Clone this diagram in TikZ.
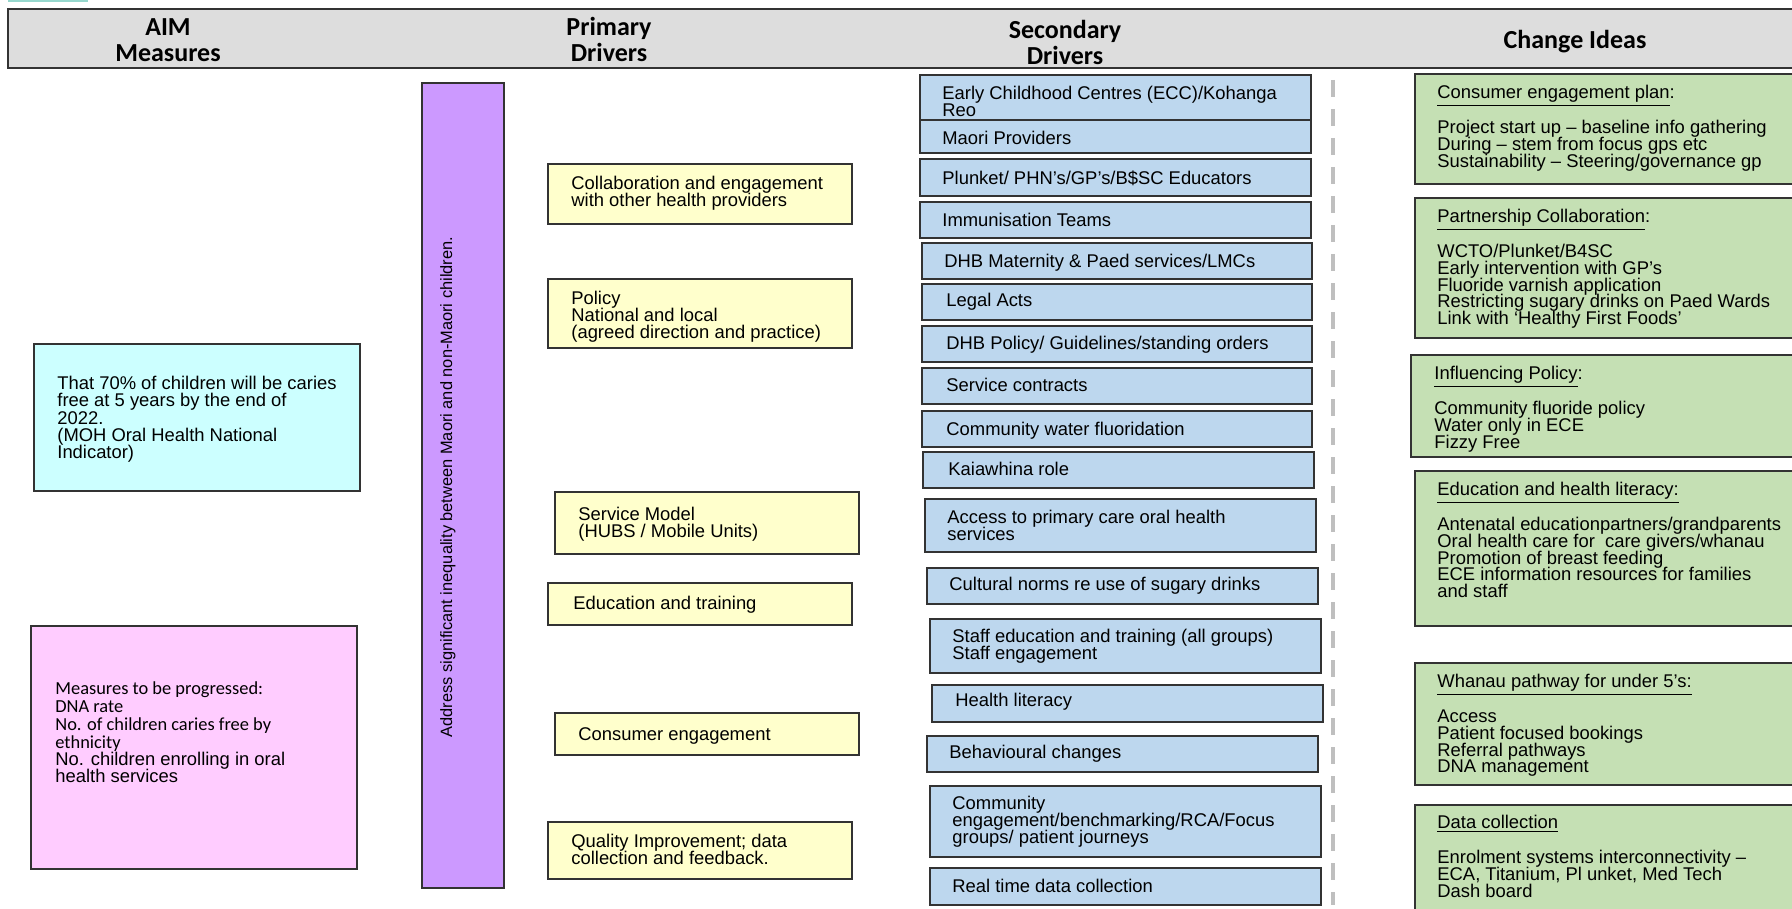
\documentclass[tikz,border=0pt]{standalone}
\usepackage{fontspec}
\setmainfont{Liberation Sans}
\newfontfamily\calibfont{Carlito}
\usepackage{xcolor}
\usepackage{tikz}
\definecolor{hdrgray}{RGB}{221,221,221}
\definecolor{aimcyan}{RGB}{204,255,255}
\definecolor{aimpink}{RGB}{255,204,255}
\definecolor{eqpurple}{RGB}{204,153,255}
\definecolor{pdyellow}{RGB}{255,255,204}
\definecolor{sdblue}{RGB}{189,215,238}
\definecolor{cigreen}{RGB}{197,224,180}
\definecolor{dashgray}{RGB}{191,191,191}
\definecolor{topteal}{RGB}{150,215,205}
\tikzset{
  boxline/.style={draw=black!80, line width=1pt},
  hdrbox/.style={boxline, fill=hdrgray},
  aimcbox/.style={boxline, fill=aimcyan},
  aimpbox/.style={boxline, fill=aimpink},
  eqbar/.style={boxline, fill=eqpurple},
  pribox/.style={boxline, fill=pdyellow},
  secbox/.style={boxline, fill=sdblue},
  ideabox/.style={boxline, fill=cigreen},
  txt/.style={anchor=north west, inner sep=0pt, align=left,
    font=\fontsize{9.2}{8.4}\selectfont},
  hdrtxt/.style={anchor=north, inner sep=0pt, align=center,
    font=\calibfont\bfseries\fontsize{13}{13}\selectfont},
}

\begin{document}
\lineskiplimit=-10pt
\begin{tikzpicture}[x=0.5pt,y=-0.5pt]
       \useasboundingbox (0,0) rectangle (1792,909);
       \clip (0,0) rectangle (1792,909);
       %TOP MARK
       \draw[topteal, line width=1pt] (8,1) -- (88,1);
       %HEADER
       \draw[hdrbox] (8,9) rectangle (1800,68);
       \node[hdrtxt] (haim) at (168,18) {AIM\\Measures};
       \node[hdrtxt] (hpri) at (609,17) {Primary\\Drivers};
       \node[hdrtxt] (hsec) at (1065,20) {Secondary\\Drivers};
       \node[hdrtxt] (hidea) at (1575,30) {Change Ideas};
       %AIM MEASURES
       \draw[aimcbox] (34,344) rectangle (360,491);
       \node[txt, font=\fontsize{9.2}{8.6}\selectfont] (aim) at (57,376) {That 70\% of children will be caries\\free at 5 years by the end of\\2022.\\(MOH Oral Health National\\Indicator)};
       \draw[aimpbox] (31,626) rectangle (357,869);
       \node[txt, font=\calibfont\fontsize{9.2}{9}\selectfont] (meas) at (55,681) {Measures to be progressed:\\DNA rate\\No. of children caries free by\\ethnicity};
       \node[txt] (enrol) at (55,752) {No. children enrolling in oral\\health services};
       %EQUITY BAR
       \draw[eqbar] (422,83) rectangle (504,888);
       \node[rotate=90, inner sep=0pt, font=\fontsize{8.2}{8}\selectfont] (eq) at (448,487) {Address significant inequality between Maori and non-Maori children.};
       %PRIMARY DRIVERS
       \draw[pribox] (548,164) rectangle (852,224);
       \node[txt] (p1) at (571,176) {Collaboration and engagement\\with other health providers};
       \draw[pribox] (548,279) rectangle (852,348);
       \node[txt] (p2) at (571,291) {Policy\\National and local\\(agreed direction and practice)};
       \draw[pribox] (555,492) rectangle (859,554);
       \node[txt] (p3) at (578,507) {Service Model\\(HUBS / Mobile Units)};
       \draw[pribox] (548,583) rectangle (852,625);
       \node[txt] (p4) at (573,596) {Education and training};
       \draw[pribox] (555,713) rectangle (859,755);
       \node[txt] (p5) at (578,727) {Consumer engagement};
       \draw[pribox] (548,822) rectangle (852,879);
       \node[txt] (p6) at (571,834) {Quality Improvement; data\\collection and feedback.};
       %SECONDARY DRIVERS
       \draw[secbox] (920,75) rectangle (1311,120);
       \node[txt] (s1) at (942,86) {Early Childhood Centres (ECC)/Kohanga\\Reo};
       \draw[secbox] (920,120) rectangle (1311,153);
       \node[txt] (s2) at (942,131) {Maori Providers};
       \draw[secbox] (920,159) rectangle (1311,196);
       \node[txt] (s3) at (942,170) {Plunket/ PHN’s/GP’s/B\$SC Educators};
       \draw[secbox] (920,202) rectangle (1311,238);
       \node[txt] (s4) at (942,213) {Immunisation Teams};
       \draw[secbox] (922,243) rectangle (1312,279);
       \node[txt] (s5) at (944,254) {DHB Maternity \& Paed services/LMCs};
       \draw[secbox] (922,284) rectangle (1312,320);
       \node[txt] (s6) at (946,293) {Legal Acts};
       \draw[secbox] (922,326) rectangle (1312,362);
       \node[txt] (s7) at (946,336) {DHB Policy/ Guidelines/standing orders};
       \draw[secbox] (922,368) rectangle (1312,404);
       \node[txt] (s8) at (946,378) {Service contracts};
       \draw[secbox] (922,411) rectangle (1312,447);
       \node[txt] (s9) at (946,422) {Community water fluoridation};
       \draw[secbox] (923,452) rectangle (1314,488);
       \node[txt] (s10) at (948,462) {Kaiawhina role};
       \draw[secbox] (925,499) rectangle (1316,552);
       \node[txt] (s11) at (947,510) {Access to primary care oral health\\services};
       \draw[secbox] (927,568) rectangle (1318,604);
       \node[txt] (s12) at (949,577) {Cultural norms re use of sugary drinks};
       \draw[secbox] (930,619) rectangle (1321,673);
       \node[txt] (s13) at (952,629) {Staff education and training (all groups)\\Staff engagement};
       \draw[secbox] (932,685) rectangle (1323,722);
       \node[txt] (s14) at (955,693) {Health literacy};
       \draw[secbox] (927,736) rectangle (1318,772);
       \node[txt] (s15) at (949,745) {Behavioural changes};
       \draw[secbox] (930,786) rectangle (1321,857);
       \node[txt] (s16) at (952,796) {Community\\engagement/benchmarking/RCA/Focus\\groups/ patient journeys};
       \draw[secbox] (930,868) rectangle (1321,905);
       \node[txt] (s17) at (952,879) {Real time data collection};
       %DASHED DIVIDER
       \draw[dashgray, line width=2pt, dash pattern=on 8.5pt off 6pt] (1333,80) -- (1333,905);
       %CHANGE IDEAS
       \draw[ideabox] (1415,74) rectangle (1800,184);
       \node[txt] (c1) at (1437,85) {\underline{Consumer engagement plan}:\\[9pt]Project start up -- baseline info gathering\\During -- stem from focus gps etc\\Sustainability -- Steering/governance gp};
       \draw[ideabox] (1415,198) rectangle (1800,338);
       \node[txt] (c2) at (1437,209) {\underline{Partnership Collaboration}:\\[9pt]WCTO/Plunket/B4SC\\Early intervention with GP’s\\Fluoride varnish application\\Restricting sugary drinks on Paed Wards\\Link with ‘Healthy First Foods’};
       \draw[ideabox] (1411,355) rectangle (1800,457);
       \node[txt] (c3) at (1434,366) {\underline{Influencing Policy}:\\[9pt]Community fluoride policy\\Water only in ECE\\Fizzy Free};
       \draw[ideabox] (1415,471) rectangle (1800,626);
       \node[txt] (c4) at (1437,482) {\underline{Education and health literacy:}\\[9pt]Antenatal educationpartners/grandparents\\Oral health care for\ \ care givers/whanau\\Promotion of breast feeding\\ECE information resources for families\\and staff};
       \draw[ideabox] (1415,663) rectangle (1800,785);
       \node[txt] (c5) at (1437,674) {\underline{Whanau pathway for under 5’s:}\\[9pt]Access\\Patient focused bookings\\Referral pathways\\DNA management};
       \draw[ideabox] (1415,805) rectangle (1800,930);
       \node[txt] (c6) at (1437,815) {\underline{Data collection}\\[9pt]Enrolment systems interconnectivity --\\ECA, Titanium, Pl unket, Med Tech\\Dash board};
\end{tikzpicture}
\end{document}
